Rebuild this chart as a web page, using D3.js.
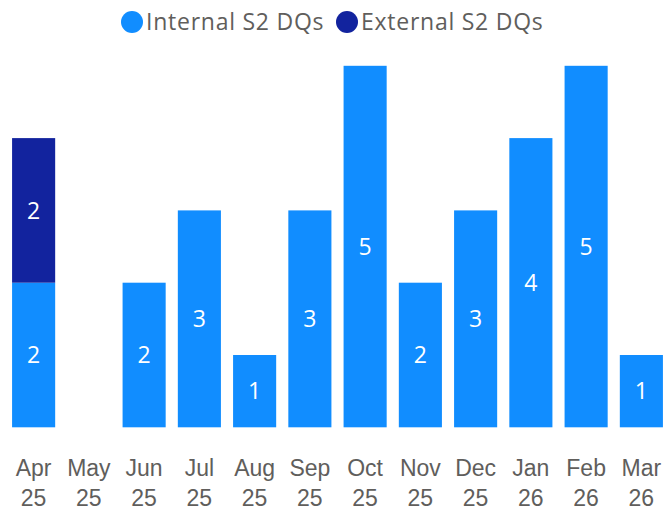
<!DOCTYPE html>
<html>
<head>
<meta charset="utf-8">
<script src="https://cdn.jsdelivr.net/npm/d3@7/dist/d3.min.js"></script>
<style>
  html, body { margin: 0; padding: 0; background: #fff; }
  svg { display: block; font-family: "Segoe UI", "Open Sans", "Noto Sans", sans-serif; }
</style>
</head>
<body>
<script>
// Monthly S2 DQ counts, split by source
const months = ["Apr 25", "May 25", "Jun 25", "Jul 25", "Aug 25", "Sep 25",
                "Oct 25", "Nov 25", "Dec 25", "Jan 26", "Feb 26", "Mar 26"];
const internalDQs = [2, 0, 2, 3, 1, 3, 5, 2, 3, 4, 5, 1];
const externalDQs = [2, 0, 0, 0, 0, 0, 0, 0, 0, 0, 0, 0];
const seriesNames = ["Internal S2 DQs", "External S2 DQs"];
const seriesColors = ["#118DFF", "#12239E"];

const W = 666, H = 516;
const svg = d3.select("body").append("svg").attr("width", W).attr("height", H);

const rows = months.map((m, i) => ({ month: m, internal: internalDQs[i], external: externalDQs[i] }));
const stack = d3.stack().keys(["internal", "external"])(rows);

const x = d3.scaleBand().domain(months).range([6, 669]).paddingInner(0.22).paddingOuter(0.11);
const y = d3.scaleLinear().domain([0, 5]).range([427.3, 65.8]);
const color = d3.scaleOrdinal().domain(["internal", "external"]).range(seriesColors);

// Stacked bars
const layers = svg.append("g").selectAll("g").data(stack).join("g")
  .attr("fill", d => color(d.key));

layers.selectAll("rect").data(d => d.filter(s => s[1] - s[0] > 0)).join("rect")
  .attr("x", d => x(d.data.month))
  .attr("width", x.bandwidth())
  .attr("y", d => y(d[1]))
  .attr("height", d => y(d[0]) - y(d[1]));

// Value labels centred in each segment
layers.selectAll("text").data(d => d.filter(s => s[1] - s[0] > 0)).join("text")
  .attr("x", d => x(d.data.month) + x.bandwidth() / 2)
  .attr("y", d => (y(d[0]) + y(d[1])) / 2)
  .attr("dy", "0.36em")
  .attr("text-anchor", "middle")
  .attr("fill", "#ffffff")
  .attr("font-size", 23)
  .text(d => d[1] - d[0]);

// Category axis with two-line labels
const xAxis = svg.append("g")
  .attr("transform", `translate(0, 427.3)`)
  .call(d3.axisBottom(x).tickSize(0).tickPadding(0).tickFormat(""));
xAxis.select(".domain").remove();
xAxis.selectAll(".tick").each(function(d) {
  const parts = d.split(" ");
  const t = d3.select(this).append("text")
    .attr("text-anchor", "middle")
    .attr("fill", "#605E5C")
    .attr("font-size", 23);
  t.append("tspan").attr("x", 0).attr("y", 48.7).text(parts[0]);
  t.append("tspan").attr("x", 0).attr("y", 78.7).text(parts[1]);
});

// Legend
const legend = svg.append("g");
const legendItems = [
  { name: seriesNames[0], color: seriesColors[0], cx: 132, tx: 146 },
  { name: seriesNames[1], color: seriesColors[1], cx: 347, tx: 361 }
];
legendItems.forEach(item => {
  legend.append("circle").attr("cx", item.cx).attr("cy", 22).attr("r", 11).attr("fill", item.color);
  legend.append("text").attr("x", item.tx).attr("y", 30)
    .attr("fill", "#605E5C").attr("font-size", 23).attr("letter-spacing", 0.75)
    .text(item.name);
});
</script>
</body>
</html>
